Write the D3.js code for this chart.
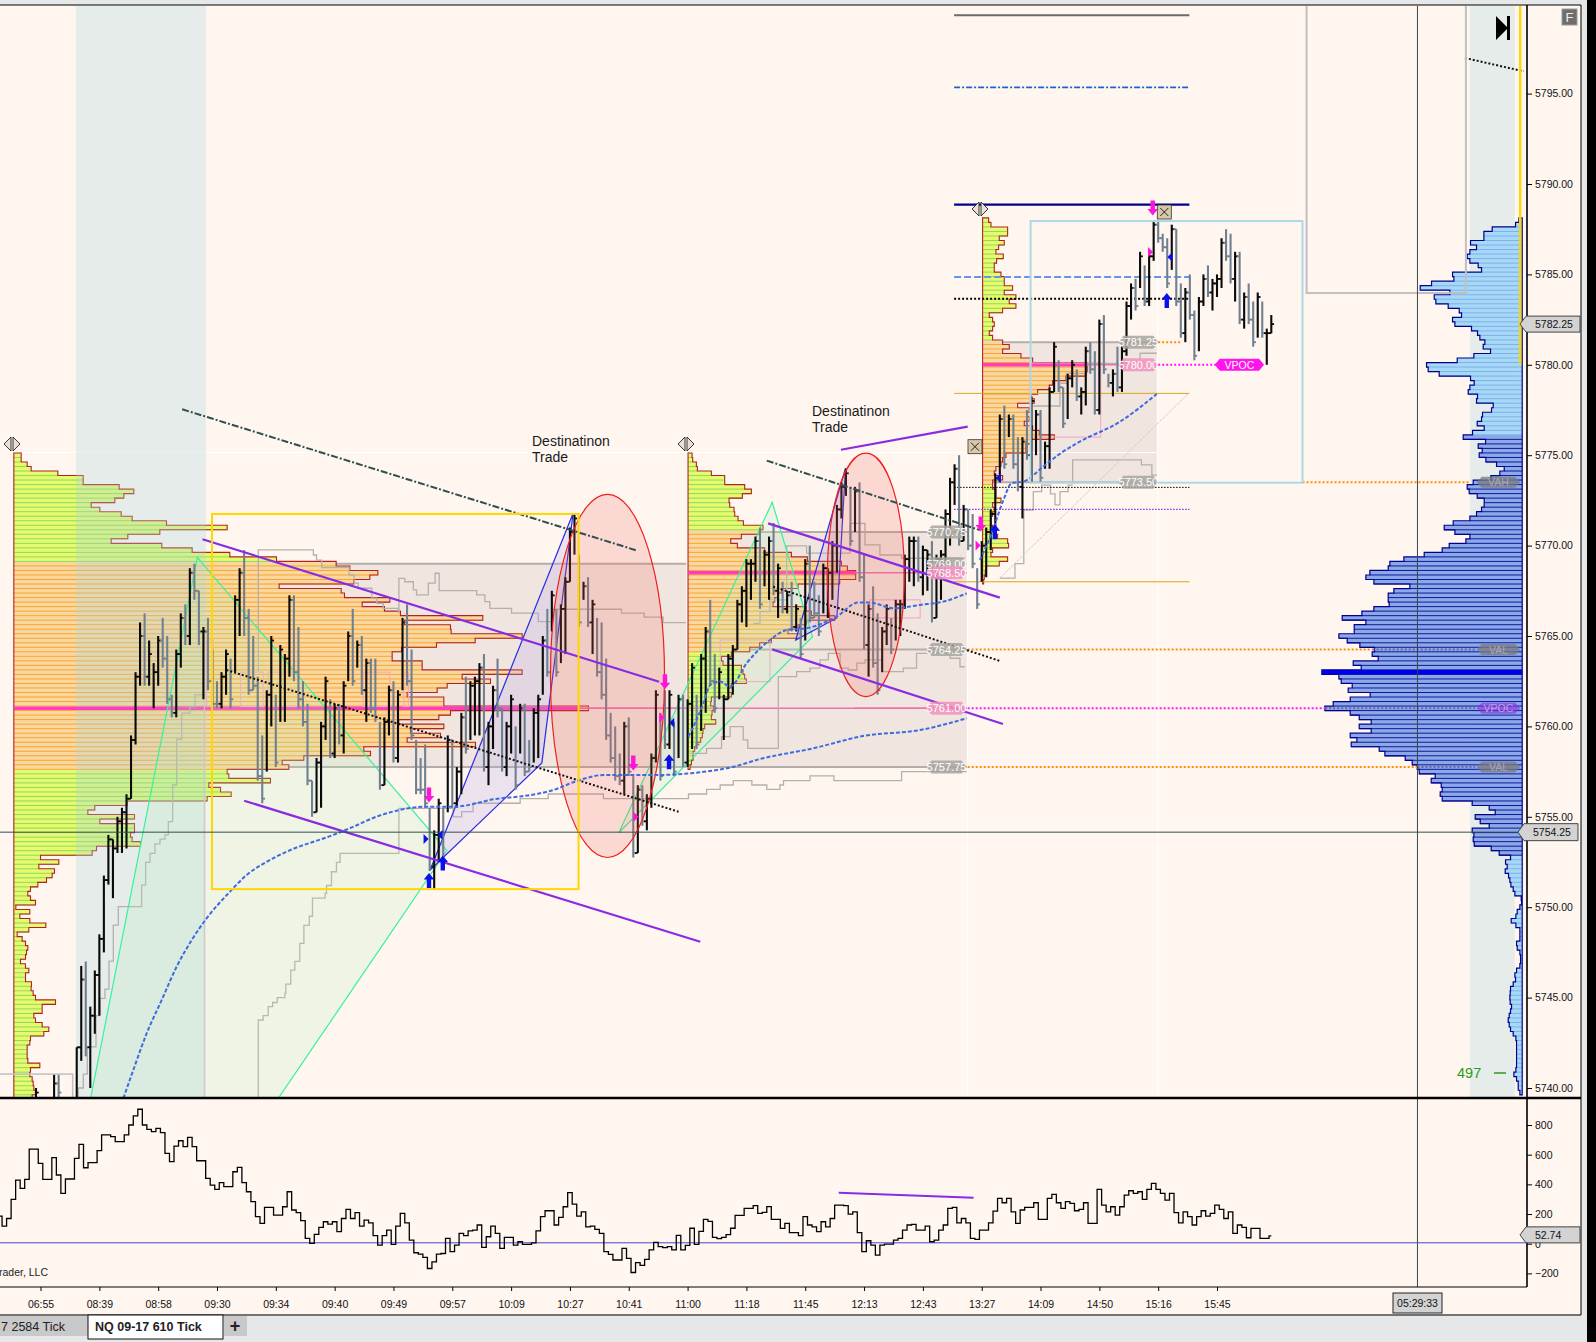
<!DOCTYPE html>
<html>
<head>
<meta charset="utf-8">
<script src="https://cdn.jsdelivr.net/npm/d3@7"></script>
<style>
  html, body { margin: 0; padding: 0; background: #000; }
  svg { display: block; }
  text { font-family: "Liberation Sans", Arial, sans-serif; }
</style>
</head>
<body>
<script>
'use strict';

// bar highs, lows and closes, one entry per bar
const barHigh = [
  5740,5739,5739,5739,5740.75,5740.75,5739.25,5739,5739.25,5742.25,
  5746.75,5747,5744.5,5746.5,5748.5,5751.75,5754,5753.75,5755,5755.5,
  5756.25,5759.5,5763,5765.75,5766.25,5764.75,5763.5,5765,5766,5765,
  5761.75,5764.25,5766.25,5766.75,5768.75,5769,5767.5,5765.5,5766,5764.25,
  5762.5,5763,5764.25,5763.75,5767.25,5768.75,5769.75,5766.5,5765,5762.75,
  5759.5,5762,5765,5761.75,5764.5,5764,5767.25,5767.25,5765.5,5762.5,
  5761.25,5757,5758.25,5760.25,5762.75,5761.5,5761.25,5761.25,5762.5,5765.25,
  5766.5,5764.75,5765,5763.75,5763.75,5763.75,5760.25,5760.5,5762.25,5762.5,
  5762,5766,5766.75,5764.25,5759.25,5758.25,5759,5755.5,5754.25,5756,
  5755.5,5759.5,5759.25,5757.75,5760.75,5762.75,5762.5,5762.75,5763.5,5764,
  5760.25,5762.25,5763.75,5761,5760.25,5761.75,5760,5761.25,5761.25,5759.25,
  5761,5761.75,5765,5766.5,5767.5,5766.5,5766.75,5768.25,5771,5771.75,
  5769.5,5768,5768.25,5767,5766,5765.75,5763.75,5760.75,5760,5758.5,
  5760.25,5760.5,5757.25,5756.75,5756.75,5756.25,5758.5,5762,5760.75,5762,
  5762,5760.25,5761.75,5761.75,5761.5,5763.5,5761.75,5764,5765.5,5767,
  5764,5763.25,5761.75,5764,5764.5,5767,5767.75,5769.25,5769.25,5770.5,
  5771,5769.75,5770.5,5771.25,5769,5768,5767.5,5768,5766.75,5766,
  5769.25,5770,5768,5767.25,5769,5768.75,5770.25,5772.25,5773.5,5774.25,
  5773.25,5773.25,5773.5,5769.5,5766.75,5767.75,5766.25,5765.5,5766.75,5766,
  5767,5767,5769.5,5770.5,5770.5,5770.5,5770,5769.75,5770.25,5769.5,
  5769.75,5772,5773.75,5774.5,5775,5772.25,5772,5771.75,5768.75,5770.25,
  5771,5772,5774,5777.25,5777.75,5777.25,5777.25,5776,5776,5777.5,
  5778.25,5777.5,5777.5,5775.75,5778.75,5781.25,5780.25,5778.75,5779.5,5780.25,
  5779.75,5778.75,5781,5781.25,5780.75,5782.5,5782.75,5779.5,5779.75,5781,
  5781,5783.5,5784.5,5784.75,5786.25,5785.5,5786.25,5788,5788,5787.25,
  5787,5787.75,5787.5,5784.5,5784.25,5785,5783,5783.75,5785,5785.5,
  5784.75,5785,5787,5787.5,5787.25,5786.25,5786.25,5784,5784.5,5783.5,
  5784,5783.5,5782,5782.75
];
const barLow = [
  5738.5,5738,5738,5738,5739,5739.25,5738.5,5738,5738.5,5738.5,
  5741.5,5741.75,5740,5743,5744,5747.5,5751.25,5750.5,5753,5753,
  5753.25,5756,5759,5762.25,5762.25,5762.25,5761,5762.25,5763.25,5761.25,
  5760.5,5760.5,5763.25,5764.5,5764.5,5767,5764.5,5761.5,5762,5761,
  5761,5761,5761.75,5761,5763,5765,5765,5761.75,5762,5757,
  5755.75,5757.5,5760,5757.75,5760.25,5760.25,5762.75,5762.5,5761,5760,
  5756.75,5755,5755.25,5755.5,5759.25,5758.25,5758.25,5759,5758.5,5762.5,
  5762.25,5763.25,5761.75,5760.25,5760.75,5760.25,5756.5,5756.75,5759.5,5758,
  5758,5762,5762.25,5759.25,5756.25,5756.25,5755.5,5752,5751,5752.5,
  5752.25,5755.25,5755.5,5755.5,5756.25,5758.5,5759.25,5759.5,5759.5,5757.5,
  5756.75,5758.75,5760.5,5757.5,5757.25,5758.5,5756.5,5758.5,5757.25,5757.5,
  5758,5758.25,5761.75,5762.75,5765.25,5762.75,5763.5,5764,5768,5769.5,
  5765.5,5767,5765.5,5764,5762.75,5761.5,5759.25,5758,5757,5756.75,
  5756.25,5757.25,5752.75,5753,5754.5,5754.25,5755.5,5758,5757,5758.75,
  5758.75,5757.25,5758.25,5757.75,5757.75,5758.75,5758.75,5759.75,5760.75,5762.25,
  5760.75,5761.5,5759.25,5761.5,5761.75,5764.25,5765.75,5765.5,5767,5768,
  5766.5,5767.75,5767,5767.25,5766,5766.25,5766.25,5765.25,5765.25,5763.75,
  5764.75,5765.75,5766,5765,5766.25,5766,5767,5768.5,5771.5,5772.75,
  5770,5770.75,5768,5764.25,5762.75,5763.25,5761.75,5763,5764.5,5764,
  5764.75,5765,5766.5,5768,5767.75,5768,5767.25,5767.5,5765.75,5766,
  5767,5769,5770,5772.25,5770,5770.25,5769.75,5768.75,5766.5,5768,
  5768.25,5769.75,5770.5,5773.5,5774.25,5776,5774.25,5773,5771.5,5774.75,
  5773.5,5775,5773.5,5774.25,5774.25,5778.5,5778.5,5776.5,5777,5778.75,
  5778,5777.25,5777.75,5779.5,5777.25,5777.25,5779.5,5778.75,5778.25,5778.5,
  5778.5,5780.5,5782.5,5783,5784.25,5783.25,5783.25,5785.75,5786.75,5786.25,
  5784.25,5785.25,5783.25,5781.5,5781.25,5782.5,5780.25,5780.75,5783.25,5783.75,
  5783,5783.75,5784.25,5785.75,5784.5,5783.5,5782.25,5782,5782.25,5781,
  5781.5,5781.5,5780,5781.75
];
const barClose = [
  5739.75,5738.75,5738.75,5738.75,5740.25,5739.75,5739,5738.25,5739,5742.25,
  5746,5742.25,5744,5746.25,5748.25,5751.5,5753.75,5753.25,5754.75,5755.25,
  5756,5759.25,5762.75,5765,5762.75,5764,5763,5764.75,5763.75,5761.5,
  5760.75,5764,5766,5765,5768.5,5767.5,5765.25,5765.25,5762.5,5761.25,
  5761.25,5762.75,5764,5761.5,5767,5768.5,5766,5762,5762.25,5757.25,
  5756,5761.75,5764.75,5758,5764.25,5763.75,5767,5763,5761.5,5760.25,
  5757,5755.25,5758,5760,5762.5,5758.5,5761,5759.5,5762.25,5765,
  5762.5,5764.5,5762,5763.5,5761,5760.5,5756.75,5760.25,5762,5758.25,
  5761.75,5765.75,5762.5,5759.5,5756.5,5756.5,5755.75,5752.25,5754,5755.75,
  5752.5,5759.25,5755.75,5757.5,5760.5,5758.75,5762.25,5762.5,5763.25,5757.75,
  5760,5762,5761,5757.75,5760,5761.5,5756.75,5761,5757.5,5757.75,
  5760.75,5761.5,5764.75,5763,5767.25,5763,5766.5,5768,5770.75,5771.5,
  5765.75,5767.75,5765.75,5766.75,5763,5761.75,5759.5,5758.25,5757.25,5757,
  5760,5757.5,5753,5756.5,5754.75,5756,5758.25,5761.75,5757.25,5759,
  5761.75,5757.5,5761.5,5758,5761.25,5763.25,5759,5763.75,5765.25,5762.5,
  5761,5763,5761.5,5763.75,5764.25,5766.75,5767.5,5769,5769,5770.25,
  5766.75,5769.5,5770.25,5767.5,5768.75,5766.5,5767.25,5765.5,5766.5,5764,
  5769,5766,5766.25,5765.25,5768.75,5768.5,5770,5772,5773.25,5774,
  5770.25,5773,5768.25,5764.5,5766.5,5763.5,5762,5765.25,5766.5,5764.25,
  5766.75,5766.75,5769.25,5770.25,5770.25,5768.25,5769.75,5769.5,5766,5769.25,
  5769.5,5771.75,5773.5,5774.25,5770.25,5772,5770,5769,5766.75,5770,
  5770.75,5771.75,5773.75,5777,5774.5,5777,5774.5,5773.25,5775.75,5775,
  5778,5777.25,5773.75,5775.5,5778.5,5781,5778.75,5776.75,5779.25,5780,
  5778.25,5778.5,5780.75,5779.75,5777.5,5782.25,5779.75,5779,5779.5,5778.75,
  5780.75,5783.25,5784.25,5783.25,5786,5783.5,5786,5787.75,5787,5786.5,
  5784.5,5787.5,5783.5,5781.75,5784,5782.75,5780.5,5783.5,5784.75,5784,
  5784.5,5784.75,5786.75,5786,5784.75,5786,5782.5,5783.75,5782.5,5781.25,
  5783.75,5781.75,5781.75,5782.25
];

// time axis labels, one every 13 bars starting at bar 1
const timeLabels = ['06:55','08:39','08:58','09:30','09:34','09:40','09:49','09:57','10:09','10:27','10:41',
  '11:00','11:18','11:45','12:13','12:43','13:27','14:09','14:50','15:16','15:45'];
const priceTicks = [5740,5745,5750,5755,5760,5765,5770,5775,5780,5785,5790,5795];
const oscTicks = [-200,0,200,400,600,800];

// lower panel oscillator, one value per bar, the last entry is the last bar
const oscValues = [
  186,119,170,299,429,373,434,638,638,541,434,434,580,463,339,436,436,575,670,512,546,546,627,733,733,721,688,688,733,800,
  861,906,800,771,755,777,748,609,553,658,694,654,717,654,559,559,440,395,366,411,384,384,485,514,411,350,283,182,137,245,
  245,193,193,249,350,227,209,155,36,2,63,110,148,132,148,81,170,231,170,209,119,159,141,54,-9,54,92,-5,119,204,
  141,24,-61,-70,-92,-167,-122,-70,-66,36,-54,-9,69,54,87,92,126,-25,47,119,69,-32,42,42,-9,13,-5,-5,6,87,
  182,222,222,126,177,249,344,267,186,215,114,119,96,69,-54,-72,-110,-110,-32,-99,-194,-128,-146,-105,-42,9,-20,-27,-20,-42,
  56,-42,-11,104,-4,83,164,151,43,34,43,61,104,191,191,238,238,256,205,211,250,164,164,103,137,74,74,54,182,126,114,81,
  148,114,170,260,260,256,200,215,74,-54,20,-9,-77,-9,-3,-3,24,36,92,126,130,92,92,119,13,24,92,126,238,245,
  141,170,141,36,29,92,92,141,220,305,276,305,215,137,227,245,245,276,164,164,305,332,276,238,283,272,222,231,276,137,137,
  366,260,215,249,193,249,328,357,339,350,299,366,406,366,339,294,339,209,141,215,182,126,182,222,186,204,260,231,170,215,
  69,126,110,40,103,103,36,36,52.74
];

// volume profiles: row volume from the top row down, rows are 0.25 points apart
const profileAVol = [22,22,40,52,132,208,208,316,360,330,303,232,258,322,355,458,640,438,342,292,444,535,648,788,967,1008,1092,1068,1020,796,
  982,992,1128,1045,1112,1160,1407,1172,1310,1312,1525,1384,1268,1163,1135,1135,1225,1225,1525,1345,1430,1300,1270,1180,1290,1290,1724,1310,1275,1155,
  1290,1190,1280,1180,1385,1050,1070,870,805,825,640,645,770,585,620,652,580,340,243,222,362,258,362,362,350,355,380,248,235,80,
  135,75,122,115,98,72,50,42,50,65,6,48,18,48,96,45,10,25,35,42,38,35,20,35,45,35,35,53,52,58,
  65,125,85,85,60,65,85,105,90,50,48,40,40,40,42,78,50,48,55,58,60,65,55,50];
const profileBVol = [12,14,25,28,70,110,110,170,190,163,123,125,138,140,150,166,225,215,160,128,148,230,310,358,460,478,503,503,455,330,
  280,270,260,255,355,370,440,355,330,300,340,250,215,185,130,100,105,160,165,170,175,130,120,130,70,68,76,72,70,83,
  50,45,43,38,25,20,15,15,10,6];
const profileCVol = [18,25,75,75,50,65,48,40,62,42,35,35,55,65,65,90,65,100,80,100,60,20,30,35,30,20,30,60,80,60,
  115,150,315,315,310,250,210,200,165,145,155,105,140,135,140,125,150,170,215,145,130,130,70,60,55,40,35,60,30,30,
  40,40,55,30,35,30,25,25,30,35,45,75,78,30,25,75,50,10,8,5,3];
const profileDVol = [10,20,90,115,115,155,137,157,165,157,132,122,209,205,272,306,217,264,259,222,189,182,209,202,152,134,127,112,117,95,
  145,195,287,282,249,155,144,157,162,134,137,87,92,119,122,135,114,149,177,110,132,120,129,109,77,54,67,94,147,165,
  159,135,114,114,122,137,157,207,234,202,157,169,219,240,294,355,397,402,457,469,445,337,385,402,402,399,445,481,540,469,
  504,504,550,525,487,443,450,432,507,483,601,550,543,510,522,456,516,567,592,516,489,453,489,453,516,496,513,429,412,351,
  330,315,309,261,273,243,240,246,240,150,99,81,141,126,99,150,145,147,144,93,69,35,50,45,51,41,37,34,27,22,
  3,2,7,15,19,33,19,7,7,7,17,15,7,5,5,7,17,22,20,27,35,36,37,36,32,35,39,42,39,35,
  27,19,17,17,17,17,17,17,19,25,17,12,12,7];

// stair lines, [bar, price]
const stairLowA = [[9.1,5739.43],[9.35,5740],[10.46,5740.77],[11.34,5742.28],[13.26,5744],[14.14,5744.96],[15.24,5745.47],[16.13,5747.02],[17.09,5749.01],[18.19,5750.03],[23.35,5751.22],[24.23,5752.48],[25.19,5752.98],[26.29,5753.5],[27.4,5753.76],[28.5,5754],[29.24,5754.73],[30.2,5756.76],[31.08,5759.29],[32.19,5760.73],[34,5761.1],[35.13,5761.74],[37,5761.74]];
const stairLowB = [[49.13,5739.2],[49.13,5743.76],[50.2,5744],[51.3,5744.5],[52.3,5744.73],[53.3,5745],[55,5745.23],[55.2,5745.75],[56.3,5746.52],[57.2,5747],[58.3,5748],[59.2,5749],[60.4,5749.5],[61.1,5750.5],[63.9,5750.76],[64.2,5751.2],[65.3,5751.96],[66.4,5752.48],[67.2,5752.98],[80.2,5755.47],[92.2,5755],[94.07,5755.29],[96.6,5755.75],[107,5756],[113.2,5756.26],[125.4,5756],[144.2,5756.26],[148.2,5756.52],[151.2,5756.76],[154.1,5757],[158.2,5756.76],[161.5,5756.52],[164.4,5756.76],[165.2,5757],[171.05,5757.26],[176.35,5757],[191.3,5757.5],[205.7,5757.5]];
const stairHighA = [[49.13,5763.03],[49.13,5769.76],[61.3,5769.48],[62,5769.2],[63.13,5768.78],[69.2,5768.38],[70.3,5767.92],[71.2,5767.64],[74.2,5767.09],[75.3,5766.81],[76.75,5766.53],[80.07,5766.29],[80.2,5768.19],[81.5,5768],[83.4,5767.55],[84.1,5767.27],[86.7,5767.92],[88.2,5768.47],[89.1,5767.51],[97.4,5767.27],[99.2,5766.9],[100.3,5766.53],[105.1,5766.26],[111,5765.8],[114.3,5766.48],[129.4,5766.26],[134.4,5766.04],[138.6,5765.74],[143.6,5765.74]];
const stairLowC = [[144.2,5758.51],[148.2,5758.79],[151.5,5759.43],[153.4,5759.99],[156.3,5759.25],[157.3,5758.79],[164.05,5762.75],[168.1,5763.03],[171.05,5763.22],[173.26,5763.68],[175.1,5764.04],[177.7,5763.22],[179.5,5763.12],[181.4,5763.5],[183.2,5763.68],[186.9,5763.03],[191.7,5763.22],[194.6,5764.04],[202,5763.77],[204.2,5763.3],[205.3,5763.3]];
const stairHighC = [[158.5,5765.7],[160,5766.35],[162.2,5767],[165.9,5769.98],[170.3,5769.58],[179.9,5771.23],[183.2,5770.04],[186.5,5769.48],[191.3,5769.3],[205.3,5769.3]];
const stairLowD = [[213,5768.2],[216.35,5769],[218.3,5771.97],[220.4,5772.98],[222.25,5773.35],[224.2,5772.86],[225.2,5772.25],[226.3,5772.98],[228.1,5773.35],[229.1,5773.35]];
const stairHighD = [[220.4,5777.72],[226.3,5778.98],[227.8,5779.53],[232.2,5780.08],[241,5780.18],[244,5780.64],[247.7,5780.64]];
const stairMidD = [[229.1,5773.45],[229.1,5774.74],[244.3,5774.46],[246.6,5773.9],[247.7,5773.9]];

// anchored vwap curves, [bar, price]
const vwapA = [[19.3,5739.43],[21.5,5740.99],[24.45,5743.02],[27.77,5744.86],[31.08,5746.71],[34.4,5748.18],[37.7,5749.38],[42.87,5750.86],[46.55,5751.78],[50.97,5752.51],[55.4,5753.07],[65.7,5754],[69.4,5754.37],[75.3,5755.01],[80.4,5755.38],[86.3,5755.56],[92.2,5755.56],[102.5,5756.02],[106.96,5756.12],[114.3,5756.48],[120.2,5757.04],[125.4,5757.31],[136.4,5757.31],[152.6,5757.68],[160.7,5758.24],[171.8,5758.79],[182.8,5759.47],[195.4,5759.8],[205.7,5760.45]];
const vwapB = [[144.2,5759.43],[147.5,5761.28],[149,5762.29],[151.2,5762.48],[153.4,5762.2],[157.05,5763.49],[162.2,5764.78],[165.9,5765.33],[170.3,5765.43],[176.9,5766.07],[181.7,5766.85],[184.3,5766.85],[189.5,5766.53],[195.4,5766.72],[200.5,5766.9],[205.7,5767.36]];
const vwapC = [[208.6,5769.21],[211.2,5770.68],[213.8,5772.52],[215.6,5773.45],[218.2,5773.54],[222.6,5774.37],[225.9,5775.01],[230,5775.66],[239.6,5776.86],[247.7,5778.39]];

// hand drawn trend lines, [bar, price] pairs
const purpleLines = [[[36.8,5770.35],[137.7,5762.47]],[[46,5755.89],[146.8,5748.09]],[[161.8,5771.23],[213,5767.12]],[[162.7,5764.26],[213.7,5760.13]],[[177.9,5775.3],[205.9,5776.58]]];
const dashDotLines = [[[32.3,5777.54],[132.9,5769.72]],[[161.5,5774.7],[208.6,5770.86]]];
const dottedLines = [[[42.1,5763.12],[142,5755.28]],[[162.9,5767.73],[213,5763.62]],[[315.8,5796.97],[328.8,5796.23]]];
const greenTriangles = [[[12.07,5739.43],[35.65,5769.35],[90.8,5753.13],[53.55,5739.43]],[[128.8,5754.12],[162.7,5772.4],[171.6,5764.96]]];
const blueTriangles = [[[87.1,5752.06],[118.7,5771.79],[111.8,5757.98]],[[167.9,5764.78],[178.9,5774.28],[177,5766]]];
// center bar, center price, bar radius, price radius
const ellipses = [[126.3,5762.79,12.6,10.04],[183.4,5768.38,8.5,6.73]];
const pinkBoxes = [[37.7,5764.78,39.2,5761.1],[45.2,5763,50.2,5761.1],[51.3,5763,58,5761.1],[72.3,5763,78.2,5761.1],[81.3,5763,82.3,5761.1],[151.2,5762.48,162.2,5764.78],[184.3,5767,195.4,5766],[219.7,5780.1,235.3,5776],[214.1,5774.55,214.1,5768.2]];

// session value areas: first bar, last bar, high price, poc, low price
const zoneA = [-4.9,143.7,5769,5761,5757.75];
const zoneB = [144.1,205.7,5770.75,5768.5,5757.75];
const zoneC = [209.2,247.7,5781.25,5780,5773.5];

// level tags
const tagPrices = [5770.75,5769,5768.5,5764.25,5761,5757.75,5781.25,5780,5773.5];
const tagBars = [196.8,196.8,196.8,196.8,196.8,196.8,239.2,239.2,239.2];
const tagPink = [0,0,1,0,1,0,0,1,0];

// flat levels of the last session: price, stroke, width, dash
const levelPrices = [5799.33,5795.34,5788.86,5784.86,5783.66,5778.42,5773.22,5772,5768];
const levelColors = ['#6a6a6a','#1e64d0','#00008b','#6495ed','#000','#daa520','#000','#8a2be2','#daa520'];
const levelWidths = [2,1.8,2.4,2,2,1,1,1.2,1];
const levelDashes = ['', '6,2,2,2', '', '7,3', '2,2', '', '1.5,1.5', '1.5,1.5', ''];

// signal markers, [bar, price]
const arrowsDown = [[86.85,5756.2],[139,5762.47],[132,5757.98],[246.8,5788.67],[208.8,5771.2]];
const arrowsUp = [[86.85,5751.47],[89.9,5752.45],[139.9,5758.05],[211.9,5770.77],[249.9,5783.55]];
const flagsBlueRight = [[86.2,5753.77]];
const flagsBlueLeft = [[89.3,5754],[140.5,5760.2],[212.7,5773.74],[250.6,5785.96]];
const flagsPinkRight = [[138.3,5760.48],[132.6,5755],[208.2,5770],[246.3,5786.24]];

const W = 1596, H = 1342;
const axisX = 1527, priceTop = 6, priceBottom = 1098, oscBottom = 1287;

const svg = d3.select('body').append('svg').attr('width', W).attr('height', H);

// scales
const x = d3.scaleLinear().domain([0, 273]).range([36, 1271.3]);
const y = d3.scaleLinear().domain([5740, 5795]).range([1088, 93.6]);
const yOsc = d3.scaleLinear().domain([0, 800]).range([1243.7, 1125]);
const volW = d3.scaleLinear().domain([0, 300]).range([0, 100]);

const path = d3.line().x((d) => x(d[0])).y((d) => y(d[1]));
const stair = d3.line().x((d) => x(d[0])).y((d) => y(d[1])).curve(d3.curveStepAfter);
const smooth = d3.line().x((d) => x(d[0])).y((d) => y(d[1])).curve(d3.curveMonotoneX);

drawFrame();

const defs = svg.append('defs');
defs.append('clipPath').attr('id', 'priceClip').append('rect')
  .attr('x', 0).attr('y', priceTop).attr('width', axisX).attr('height', priceBottom - priceTop);
defs.append('clipPath').attr('id', 'oscClip').append('rect')
  .attr('x', 0).attr('y', priceBottom).attr('width', axisX).attr('height', oscBottom - priceBottom);

const pane = svg.append('g').attr('clip-path', 'url(#priceClip)');

drawZones();
drawProfile(profileAVol, 5775, x(-4.9), 1, 5769, 5757.75, 5761);
drawProfile(profileBVol, 5775, x(144.1), 1, 5770.75, 5764.25, 5768.5);
drawProfile(profileCVol, 5788, x(209.2), 1, 5781.25, 5773.5, 5780);
drawBands();
drawProfile(profileDVol, 5788, x(328.45), -1, 5776, 5753, 5763);
drawPocLines();
drawStairs();
drawPatterns();
drawLevels();
drawBars();
drawEllipses();
drawTrendLines();
drawVwaps();
drawBoxes();
drawTags();
drawMarkers();
drawOscillator();
drawAxes();
drawChrome();

// background, borders and window colours
function drawFrame() {
  svg.append('rect').attr('width', W).attr('height', H).attr('fill', '#e6e7e9');
  svg.append('rect').attr('x', 0).attr('y', priceTop - 1).attr('width', 1581).attr('height', 1315 - priceTop)
    .attr('fill', '#fff6f0');
  svg.append('rect').attr('x', 1587).attr('y', 0).attr('width', 9).attr('height', H).attr('fill', '#000');
}

// session value area backgrounds with their edge lines
function drawZones() {
  [zoneA, zoneB, zoneC].forEach((z) => {
    pane.append('rect')
      .attr('x', x(z[0])).attr('width', x(z[1]) - x(z[0]))
      .attr('y', y(z[2])).attr('height', y(z[4]) - y(z[2]))
      .attr('fill', '#6e5a50').attr('fill-opacity', 0.1);
    [z[2], z[4]].forEach((p) => {
      pane.append('line')
        .attr('x1', x(z[0])).attr('x2', x(z[1])).attr('y1', y(p)).attr('y2', y(p))
        .attr('stroke', '#b5aea8').attr('stroke-width', 2);
    });
  });
  pane.append('line').attr('x1', x(144.1)).attr('x2', x(205.7)).attr('y1', y(5764.25)).attr('y2', y(5764.25))
    .attr('stroke', '#b5aea8').attr('stroke-width', 2);
  // faint white session frames
  pane.append('line').attr('x1', x(-4.9)).attr('x2', x(247.7)).attr('y1', y(5775.15)).attr('y2', y(5775.15))
    .attr('stroke', '#fff').attr('stroke-width', 1);
  [205.9, 247.9].forEach((b) => {
    pane.append('line').attr('x1', x(b)).attr('x2', x(b)).attr('y1', y(b > 240 ? 5788 : 5775.15)).attr('y2', priceBottom)
      .attr('stroke', '#fff').attr('stroke-width', 1);
  });
}

// draw one volume profile, rows are centred on their price
function drawProfile(volumes, topPrice, baseX, dir, vaHigh, vaLow, poc) {
  const rowTop = (r) => y(topPrice - 0.25 * r + 0.125);
  const rowBottom = (r) => y(topPrice - 0.25 * r - 0.125);
  const inVa = (r) => {
    const p = topPrice - 0.25 * r;
    return p <= vaHigh && p >= vaLow;
  };
  const blue = dir < 0;
  const g = pane.append('g');

  g.selectAll('rect').data(volumes).enter().append('rect')
    .attr('x', (d) => dir > 0 ? baseX : baseX - volW(d))
    .attr('y', (d, r) => rowTop(r))
    .attr('width', (d) => volW(d))
    .attr('height', (d, r) => rowBottom(r) - rowTop(r))
    .attr('fill', (d, r) => {
      if (blue) return inVa(r) ? '#8ca8e8' : '#a6d8f8';
      return inVa(r) ? '#f8d8a2' : '#e6fa6e';
    });

  g.selectAll('line').data(volumes).enter().append('line')
    .attr('x1', baseX)
    .attr('x2', (d) => baseX + dir * volW(d))
    .attr('y1', (d, r) => rowBottom(r))
    .attr('y2', (d, r) => rowBottom(r))
    .attr('stroke', (d, r) => {
      if (blue) return inVa(r) ? '#0a1a96' : '#7fb0e6';
      return inVa(r) ? '#ffa326' : '#8fd85c';
    })
    .attr('stroke-width', 1);

  const outline = [[baseX, rowTop(0)]];
  volumes.forEach((d, r) => {
    outline.push([baseX + dir * volW(d), rowTop(r)]);
    outline.push([baseX + dir * volW(d), rowBottom(r)]);
  });
  outline.push([baseX, rowBottom(volumes.length - 1)]);
  g.append('path')
    .attr('d', d3.line()(outline) + 'Z')
    .attr('fill', 'none')
    .attr('stroke', blue ? '#00008b' : '#b22222')
    .attr('stroke-width', blue ? 1.2 : 1.1);

  if (blue) {
    const r = Math.round((topPrice - poc) / 0.25);
    g.append('rect')
      .attr('x', baseX - volW(volumes[r])).attr('y', rowTop(r))
      .attr('width', volW(volumes[r])).attr('height', rowBottom(r) - rowTop(r))
      .attr('fill', '#0000e6');
  }
}

// pale time bands behind the first bars and the right hand profile
function drawBands() {
  [[8.84, 37.57], [316.9, 326.8]].forEach((b) => {
    pane.append('rect')
      .attr('x', x(b[0])).attr('width', x(b[1]) - x(b[0]))
      .attr('y', priceTop).attr('height', priceBottom - priceTop)
      .attr('fill', '#a8d4dc').attr('fill-opacity', 0.3);
  });
}

function drawPocLines() {
  // thick part sits on the profile, thin part runs on to the end of the session
  const pocs = [[-4.9, 119.9, 143.7, 5761], [143.7, 180.8, 205.7, 5761], [144.1, 181, 205.7, 5768.5], [209.2, 232.5, 240, 5780]];
  pocs.forEach((p, k) => {
    if (k !== 1) {
      pane.append('line').attr('x1', x(p[0])).attr('x2', x(p[1])).attr('y1', y(p[3])).attr('y2', y(p[3]))
        .attr('stroke', '#ff3cc4').attr('stroke-width', 3.4);
    }
    pane.append('line').attr('x1', x(p[1])).attr('x2', x(p[2])).attr('y1', y(p[3])).attr('y2', y(p[3]))
      .attr('stroke', '#f26fb4').attr('stroke-width', 1.6);
  });
  pane.append('line').attr('x1', x(119.9)).attr('x2', x(205.7)).attr('y1', y(5761)).attr('y2', y(5761))
    .attr('stroke', '#f26fb4').attr('stroke-width', 1.6);
  pinkBoxes.forEach((b) => {
    pane.append('rect')
      .attr('x', x(b[0])).attr('width', x(b[2]) - x(b[0]))
      .attr('y', y(Math.max(b[1], b[3]))).attr('height', Math.abs(y(b[1]) - y(b[3])))
      .attr('fill', 'none').attr('stroke', '#f4a6c8').attr('stroke-width', 1.1);
  });
  pane.append('line').attr('x1', x(37.2)).attr('x2', x(37.2)).attr('y1', y(5765)).attr('y2', priceBottom)
    .attr('stroke', '#e6b4cc').attr('stroke-width', 1.2);
}

function drawStairs() {
  [stairLowA, stairLowB, stairHighA, stairLowC, stairHighC, stairLowD, stairHighD, stairMidD].forEach((s) => {
    pane.append('path').attr('d', stair(s)).attr('fill', 'none')
      .attr('stroke', '#b4b0aa').attr('stroke-width', 1.3);
  });
  pane.append('path').attr('d', path([[213, 5768.2], [254.7, 5778.42]])).attr('fill', 'none')
    .attr('stroke', '#cfcac6').attr('stroke-width', 1).attr('stroke-dasharray', '3,1');
}

// xabcd style triangles
function drawPatterns() {
  greenTriangles.forEach((t) => {
    pane.append('path').attr('d', path(t) + 'Z')
      .attr('fill', '#aff0b9').attr('fill-opacity', 0.2).attr('stroke', 'none');
    pane.append('path').attr('d', path(t) + (t.length === 3 ? 'Z' : ''))
      .attr('fill', 'none').attr('stroke', '#36f29a').attr('stroke-width', 1.2);
  });
  blueTriangles.forEach((t) => {
    pane.append('path').attr('d', path(t) + 'Z')
      .attr('fill', '#b4a6e6').attr('fill-opacity', 0.25)
      .attr('stroke', '#2a2ae6').attr('stroke-width', 1.2);
  });
}

// flat levels and the dotted levels that run out to the right
function drawLevels() {
  levelPrices.forEach((p, k) => {
    pane.append('line').attr('x1', x(202.9)).attr('x2', x(254.9)).attr('y1', y(p)).attr('y2', y(p))
      .attr('stroke', levelColors[k]).attr('stroke-width', levelWidths[k])
      .attr('stroke-dasharray', levelDashes[k]);
  });
  const runs = [[205.9, 305.3, 5757.75, '#ff8c00'], [205.9, 295.4, 5764.25, '#ff8c00'], [205.9, 284.9, 5761, '#ff1aff'],
    [248, 253.2, 5781.25, '#ff8c00'], [248, 261, 5780, '#ff1aff'], [279.9, 317, 5773.5, '#ff8c00']];
  runs.forEach((r) => {
    pane.append('line').attr('x1', x(r[0])).attr('x2', x(r[1])).attr('y1', y(r[2])).attr('y2', y(r[2]))
      .attr('stroke', r[3]).attr('stroke-width', 2).attr('stroke-dasharray', '2,2');
  });
  [[295.4, 318, 5764.25], [284.9, 318, 5761], [305.3, 318, 5757.75]].forEach((r) => {
    pane.append('line').attr('x1', x(r[0])).attr('x2', x(r[1])).attr('y1', y(r[2])).attr('y2', y(r[2]))
      .attr('stroke', '#6f64a0').attr('stroke-width', 2).attr('stroke-dasharray', '2,2');
  });
}

// ohlc bars, black when the close is in the upper half, slate otherwise
function drawBars() {
  const g = pane.append('g');
  const up = (i) => barClose[i] >= (barHigh[i] + barLow[i]) / 2;
  const colour = (i) => up(i) ? '#0a0a0a' : '#708090';
  barHigh.forEach((h, i) => {
    const col = colour(i);
    g.append('line').attr('x1', x(i)).attr('x2', x(i)).attr('y1', y(h)).attr('y2', y(barLow[i]))
      .attr('stroke', col).attr('stroke-width', 2.1);
    g.append('line').attr('x1', x(i)).attr('x2', x(i) + 2.8).attr('y1', y(barClose[i])).attr('y2', y(barClose[i]))
      .attr('stroke', col).attr('stroke-width', 1.8);
    const prev = i > 0 ? barClose[i - 1] : barLow[i];
    if (prev <= h && prev >= barLow[i]) {
      g.append('line').attr('x1', x(i) - 2.8).attr('x2', x(i)).attr('y1', y(prev)).attr('y2', y(prev))
        .attr('stroke', col).attr('stroke-width', 1.8);
    }
  });
}

function drawEllipses() {
  ellipses.forEach((e) => {
    pane.append('ellipse')
      .attr('cx', x(e[0])).attr('cy', y(e[1]))
      .attr('rx', x(e[0] + e[2]) - x(e[0])).attr('ry', y(e[1] - e[3]) - y(e[1]))
      .attr('fill', '#f0645a').attr('fill-opacity', 0.2)
      .attr('stroke', '#f01e1e').attr('stroke-width', 1.2);
  });
}

function drawTrendLines() {
  purpleLines.forEach((l) => {
    pane.append('path').attr('d', path(l)).attr('stroke', '#8a2be2').attr('stroke-width', 2.2).attr('fill', 'none');
  });
  dashDotLines.forEach((l) => {
    pane.append('path').attr('d', path(l)).attr('stroke', '#2f4f4f').attr('stroke-width', 2)
      .attr('stroke-dasharray', '7,2,2,2').attr('fill', 'none');
  });
  dottedLines.forEach((l) => {
    pane.append('path').attr('d', path(l)).attr('stroke', '#111').attr('stroke-width', 2)
      .attr('stroke-dasharray', '2,2').attr('fill', 'none');
  });
}

function drawVwaps() {
  [vwapA, vwapB, vwapC].forEach((v) => {
    pane.append('path').attr('d', smooth(v)).attr('fill', 'none')
      .attr('stroke', '#3f6be0').attr('stroke-width', 2).attr('stroke-dasharray', '4,2');
  });
}

// rectangle drawing objects, crosshair and the vertical time cursor
function drawBoxes() {
  const box = (i1, i2, p1, p2, col, w) => {
    pane.append('rect')
      .attr('x', x(i1)).attr('width', x(i2) - x(i1))
      .attr('y', y(p1)).attr('height', y(p2) - y(p1))
      .attr('fill', 'none').attr('stroke', col).attr('stroke-width', w);
  };
  box(38.9, 119.9, 5771.75, 5751, '#ffd700', 2);
  box(219.8, 279.9, 5787.95, 5773.48, '#add8e6', 2);
  box(280.8, 316, 5801, 5783.97, '#c0c0c0', 2);
  box(-12, 8.1, 5740.77, 5738, '#c0c0c0', 1.5);
  pane.append('line').attr('x1', x(328)).attr('x2', x(328)).attr('y1', priceTop).attr('y2', y(5780))
    .attr('stroke', '#ffd700').attr('stroke-width', 2.4);
  pane.append('line').attr('x1', 0).attr('x2', axisX).attr('y1', y(5754.15)).attr('y2', y(5754.15))
    .attr('stroke', '#2f4f4f').attr('stroke-width', 1);
  svg.append('line').attr('x1', x(305.3)).attr('x2', x(305.3)).attr('y1', priceTop).attr('y2', oscBottom)
    .attr('stroke', '#37474f').attr('stroke-width', 1);
}

function hexTag(g, x1, x2, yc, h, fill, label, textFill, opacity, size) {
  const n = 5;
  g.append('path')
    .attr('d', `M${x1},${yc}L${x1 + n},${yc - h / 2}L${x2 - n},${yc - h / 2}L${x2},${yc}L${x2 - n},${yc + h / 2}L${x1 + n},${yc + h / 2}Z`)
    .attr('fill', fill).attr('fill-opacity', opacity);
  g.append('text').attr('x', (x1 + x2) / 2).attr('y', yc + 4).attr('text-anchor', 'middle')
    .attr('font-size', size).attr('fill', textFill).text(label);
}

function drawTags() {
  tagPrices.forEach((p, k) => {
    const x1 = x(tagBars[k]);
    hexTag(pane, x1, x1 + 40, y(p), 13, tagPink[k] ? '#f291bd' : '#a8a4a0', p.toFixed(2), '#fff', 0.85, 11);
  });
  hexTag(pane, x(260.5), x(271.4), y(5780), 12, '#ff14ee', 'VPOC', '#fff', 1, 10.5);
  hexTag(pane, x(318.4), x(328), y(5773.5), 11, '#7a7a80', 'VAH', '#a8a8b0', 0.75, 10.5);
  hexTag(pane, x(318.4), x(328), y(5764.25), 11, '#7a7a80', 'VAL', '#a8a8b0', 0.75, 10.5);
  hexTag(pane, x(318.4), x(328), y(5761), 11, '#8a2be2', 'VPOC', '#b6a4e0', 0.6, 10.5);
  hexTag(pane, x(318.4), x(328), y(5757.75), 11, '#7a7a80', 'VAL', '#a8a8b0', 0.75, 10.5);
  // text notes
  [[532, 446, 'Destinatinon'], [532, 462, 'Trade'], [812, 416, 'Destinatinon'], [812, 432, 'Trade']].forEach((t) => {
    pane.append('text').attr('x', t[0]).attr('y', t[1]).attr('font-size', 14).attr('fill', '#1a1a1a').text(t[2]);
  });
  pane.append('text').attr('x', 1457).attr('y', 1078).attr('font-size', 14.5).attr('fill', '#2e9a1e').text('497');
  pane.append('line').attr('x1', 1494).attr('x2', 1506).attr('y1', 1073).attr('y2', 1073)
    .attr('stroke', '#2e9a1e').attr('stroke-width', 1.5);
}

function drawMarkers() {
  const arrow = (d, dir, col) => {
    const cx = x(d[0]), cy = y(d[1]);
    // dir 1 points down, -1 points up
    const p = [[-2.2, -7.5], [2.2, -7.5], [2.2, 1], [5.2, 1], [0, 7.5], [-5.2, 1], [-2.2, 1]]
      .map((q) => [cx + q[0], cy + dir * q[1]]);
    pane.append('path').attr('d', d3.line()(p) + 'Z').attr('fill', col);
  };
  arrowsDown.forEach((d) => arrow(d, 1, '#ff14dc'));
  arrowsUp.forEach((d) => arrow(d, -1, '#0a10e6'));
  const flag = (d, dir, col) => {
    const cx = x(d[0]), cy = y(d[1]);
    pane.append('path').attr('d', d3.line()([[cx - dir * 2.5, cy - 5], [cx + dir * 2.5, cy], [cx - dir * 2.5, cy + 5]]) + 'Z')
      .attr('fill', col);
  };
  flagsBlueRight.forEach((d) => flag(d, 1, '#0a10e6'));
  flagsBlueLeft.forEach((d) => flag(d, -1, '#0a10e6'));
  flagsPinkRight.forEach((d) => flag(d, 1, '#ff14dc'));

  // session markers
  [[12, 444], [686, 444], [980, 209]].forEach((d) => {
    pane.append('path')
      .attr('d', `M${d[0] - 8},${d[1]}L${d[0] - 1},${d[1] - 7}L${d[0] - 1},${d[1] + 7}ZM${d[0] + 8},${d[1]}L${d[0] + 1},${d[1] - 7}L${d[0] + 1},${d[1] + 7}Z`)
      .attr('fill', '#e8e0d4').attr('stroke', '#222').attr('stroke-width', 0.9);
  });
  [[975, 446.7], [1164.3, 212]].forEach((d) => {
    const s = 7;
    pane.append('rect').attr('x', d[0] - s).attr('y', d[1] - s).attr('width', 2 * s).attr('height', 2 * s)
      .attr('fill', '#d8c8a8').attr('stroke', '#333').attr('stroke-width', 0.8);
    pane.append('path').attr('d', `M${d[0] - 4},${d[1] - 4}L${d[0] + 4},${d[1] + 4}M${d[0] + 4},${d[1] - 4}L${d[0] - 4},${d[1] + 4}`)
      .attr('stroke', '#222').attr('stroke-width', 1);
  });
}

function drawOscillator() {
  const g = svg.append('g').attr('clip-path', 'url(#oscClip)');
  const first = barHigh.length - oscValues.length;
  const line = d3.line().x((d, k) => x(first + k)).y((d) => yOsc(d)).curve(d3.curveStep);
  g.append('line').attr('x1', 0).attr('x2', axisX).attr('y1', yOsc(6)).attr('y2', yOsc(6))
    .attr('stroke', '#4646d2').attr('stroke-width', 1);
  g.append('path').datum(oscValues).attr('d', line).attr('fill', 'none')
    .attr('stroke', '#000').attr('stroke-width', 1.3);
  g.append('path').attr('d', d3.line().x((d) => x(d[0])).y((d) => yOsc(d[1]))([[177.4, 344], [207.2, 310]]))
    .attr('stroke', '#8a2be2').attr('stroke-width', 2).attr('fill', 'none');
  g.append('text').attr('x', -1).attr('y', 1276).attr('font-size', 10.5).attr('fill', '#222').text('rader, LLC');
}

function drawAxes() {
  const priceAxis = d3.axisRight(y).tickValues(priceTicks).tickFormat(d3.format('.2f')).tickSize(5);
  const gPrice = svg.append('g').attr('transform', `translate(${axisX},0)`).call(priceAxis);
  const oscAxis = d3.axisRight(yOsc).tickValues(oscTicks).tickFormat(d3.format('d')).tickSize(5);
  const gOsc = svg.append('g').attr('transform', `translate(${axisX},0)`).call(oscAxis);
  const tickBars = timeLabels.map((d, k) => 1 + 13 * k);
  const timeAxis = d3.axisBottom(x).tickValues(tickBars).tickFormat((d, k) => timeLabels[k]).tickSize(4).tickPadding(10);
  const gTime = svg.append('g').attr('transform', `translate(0,${oscBottom})`).call(timeAxis);
  [gPrice, gOsc, gTime].forEach((g) => {
    g.select('.domain').remove();
    g.selectAll('text').attr('font-size', 10.5).attr('fill', '#111').style('font-family', '"Liberation Sans", Arial, sans-serif');
    g.selectAll('line').attr('stroke', '#000');
  });
  const frame = [[0, 5, 1581, 5, 1], [axisX, 5, axisX, oscBottom, 1.6], [0, priceBottom, axisX + 54, priceBottom, 2.4],
    [0, oscBottom, axisX, oscBottom, 1.2], [0, 1315, 1581, 1315, 1], [1581, 5, 1581, 1315, 1]];
  frame.forEach((f) => {
    svg.append('line').attr('x1', f[0]).attr('y1', f[1]).attr('x2', f[2]).attr('y2', f[3])
      .attr('stroke', '#000').attr('stroke-width', f[4]);
  });
}

// price flags on the axis, tabs and window buttons
function drawChrome() {
  const flagTag = (x1, x2, yc, h, label) => {
    svg.append('path')
      .attr('d', `M${x1},${yc}L${x1 + 6},${yc - h / 2}L${x2},${yc - h / 2}L${x2},${yc + h / 2}L${x1 + 6},${yc + h / 2}Z`)
      .attr('fill', '#d3d3d3').attr('stroke', '#444').attr('stroke-width', 1);
    svg.append('text').attr('x', x1 + 15).attr('y', yc + 4).attr('font-size', 10.5).attr('fill', '#111').text(label);
  };
  flagTag(1520, 1580, y(5782.25), 16, '5782.25');
  flagTag(1518, 1578, y(5754.15), 17, '5754.25');
  flagTag(1520, 1580, yOsc(52.74) - 1, 16, '52.74');

  svg.append('rect').attr('x', 1393).attr('y', 1293).attr('width', 49).attr('height', 20)
    .attr('fill', '#d3d3d3').attr('stroke', '#222').attr('stroke-width', 1);
  svg.append('text').attr('x', 1417.5).attr('y', 1307).attr('text-anchor', 'middle').attr('font-size', 10.5)
    .attr('fill', '#111').text('05:29:33');

  svg.append('rect').attr('x', 0).attr('y', 1316).attr('width', 88).attr('height', 20).attr('fill', '#c9c9c9');
  svg.append('text').attr('x', 1).attr('y', 1331).attr('font-size', 12.5).attr('fill', '#222').text('7 2584 Tick');
  svg.append('rect').attr('x', 88).attr('y', 1315).attr('width', 135).attr('height', 24)
    .attr('fill', '#fff').attr('stroke', '#111').attr('stroke-width', 1);
  svg.append('text').attr('x', 95).attr('y', 1331).attr('font-size', 12.5).attr('font-weight', 'bold').attr('fill', '#222')
    .text('NQ 09-17 610 Tick');
  svg.append('rect').attr('x', 224).attr('y', 1316).attr('width', 23).attr('height', 20).attr('fill', '#c9c9c9');
  svg.append('text').attr('x', 235).attr('y', 1332).attr('text-anchor', 'middle').attr('font-size', 18).attr('font-weight', 'bold')
    .attr('fill', '#222').text('+');

  svg.append('rect').attr('x', 1562).attr('y', 9).attr('width', 15).attr('height', 16).attr('fill', '#6e6e6e').attr('stroke', '#9a9a9a');
  svg.append('text').attr('x', 1569.5).attr('y', 22).attr('text-anchor', 'middle').attr('font-size', 13).attr('fill', '#eee').text('F');
  svg.append('path').attr('d', 'M1496,16L1508,28L1496,40ZM1507,16H1510V40H1507Z').attr('fill', '#000');
}
</script>
</body>
</html>
